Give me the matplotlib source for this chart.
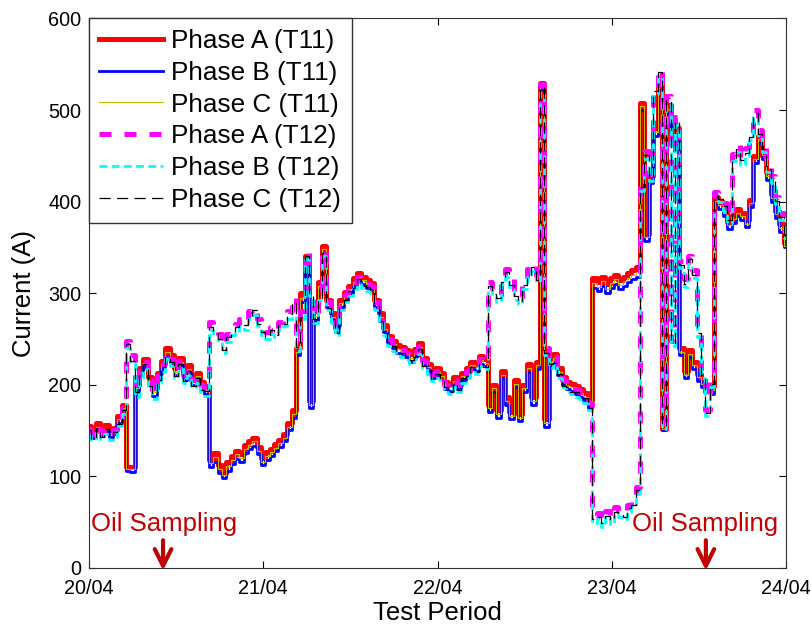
import numpy as np
import matplotlib
matplotlib.use("Agg")
import matplotlib.pyplot as plt

plt.rcParams['font.family'] = ['Liberation Sans', 'DejaVu Sans']

# time axis: 20/04 00:00 .. 24/04 00:00, one sample every 0.025 day
days = np.linspace(0, 4, 161)
day_ticks = [0, 1, 2, 3, 4]
day_labels = ['20/04', '21/04', '22/04', '23/04', '24/04']

# T11 phase currents (A)
t11_a = [155, 150, 158, 151, 156, 150, 153, 166, 178, 110, 110, 200, 218, 228, 208, 196, 213, 226, 240, 232,
         218, 229, 213, 221, 208, 213, 203, 198, 118, 125, 112, 104, 115, 122, 128, 124, 134, 138, 142, 132,
         120, 126, 130, 135, 140, 146, 158, 172, 240, 300, 340, 182, 280, 312, 352, 293, 278, 265, 293, 301,
         308, 316, 322, 318, 314, 311, 293, 278, 265, 253, 248, 243, 241, 238, 233, 239, 245, 229, 223, 215,
         218, 213, 203, 201, 208, 203, 213, 218, 225, 223, 231, 228, 178, 200, 172, 215, 186, 170, 205, 168,
         200, 222, 186, 225, 530, 162, 229, 233, 218, 208, 203, 201, 198, 195, 191, 183, 316, 312, 318, 310,
         316, 320, 314, 318, 322, 325, 328, 508, 365, 428, 480, 530, 152, 505, 470, 480, 240, 215, 238, 225,
         212, 205, 200, 198, 405, 400, 392, 378, 385, 392, 388, 380, 402, 450, 472, 455, 432, 408, 390, 375, 355]
t11_b = [148, 142, 150, 144, 149, 143, 146, 158, 170, 106, 105, 192, 210, 220, 200, 188, 205, 218, 231, 224,
         210, 221, 205, 213, 200, 205, 195, 190, 110, 116, 104, 98, 106, 113, 119, 116, 125, 130, 133, 124,
         112, 118, 122, 127, 132, 138, 150, 164, 232, 290, 332, 175, 270, 303, 344, 285, 270, 257, 285, 293,
         300, 308, 314, 310, 306, 303, 285, 270, 257, 245, 240, 235, 233, 230, 225, 231, 237, 221, 215, 207,
         210, 205, 195, 193, 200, 195, 205, 210, 217, 215, 223, 220, 170, 192, 164, 207, 178, 162, 197, 160,
         192, 214, 178, 217, 522, 154, 221, 225, 210, 200, 195, 193, 190, 187, 183, 175, 306, 302, 308, 300,
         306, 310, 304, 308, 312, 315, 318, 500, 357, 420, 472, 522, 150, 497, 462, 472, 232, 207, 230, 217,
         204, 197, 192, 190, 397, 392, 384, 370, 377, 384, 380, 372, 394, 442, 464, 447, 424, 400, 382, 367, 350]
t11_c = [151, 147, 154, 148, 152, 147, 149, 162, 174, 108, 108, 196, 214, 224, 204, 192, 209, 222, 236, 228,
         214, 225, 209, 217, 204, 209, 199, 194, 114, 121, 108, 101, 111, 118, 124, 120, 130, 134, 138, 128,
         116, 122, 126, 131, 136, 142, 154, 168, 236, 295, 336, 178, 275, 308, 348, 289, 274, 261, 289, 297,
         304, 312, 318, 314, 310, 307, 289, 274, 261, 249, 244, 239, 237, 234, 229, 235, 241, 225, 219, 211,
         214, 209, 199, 197, 204, 199, 209, 214, 221, 219, 227, 224, 174, 196, 168, 211, 182, 166, 201, 164,
         196, 218, 182, 221, 526, 158, 225, 229, 214, 204, 199, 197, 194, 191, 187, 179, 311, 307, 313, 305,
         311, 315, 309, 313, 317, 320, 323, 504, 361, 424, 476, 526, 151, 501, 466, 476, 236, 211, 234, 221,
         208, 201, 196, 194, 401, 396, 388, 374, 381, 388, 384, 376, 398, 446, 468, 451, 428, 404, 386, 371, 352]

# T12 phase currents (A)
t12_a = [152, 146, 155, 148, 153, 147, 150, 162, 175, 248, 232, 195, 215, 225, 205, 192, 210, 222, 236, 228,
         215, 226, 210, 218, 205, 210, 200, 196, 268, 262, 255, 243, 255, 262, 266, 272, 268, 280, 284, 272,
         262, 258, 263, 260, 268, 272, 280, 296, 245, 280, 345, 305, 275, 300, 348, 290, 275, 262, 290, 298,
         305, 312, 318, 314, 310, 308, 290, 275, 262, 250, 245, 240, 238, 235, 230, 236, 242, 226, 220, 212,
         215, 210, 200, 198, 205, 200, 210, 215, 222, 220, 228, 225, 312, 305, 298, 318, 326, 315, 300, 296,
         312, 326, 332, 320, 528, 240, 226, 230, 215, 205, 200, 198, 195, 192, 188, 180, 56, 60, 52, 62,
         55, 66, 62, 60, 68, 73, 88, 420, 455, 430, 525, 545, 158, 515, 248, 492, 335, 315, 340, 325,
         260, 215, 172, 205, 410, 408, 398, 385, 452, 462, 448, 458, 475, 500, 478, 462, 440, 428, 405, 388, 368]
t12_b = [145, 139, 148, 141, 146, 140, 143, 155, 168, 240, 224, 187, 207, 217, 197, 184, 202, 214, 228, 220,
         207, 218, 202, 210, 197, 202, 192, 188, 260, 254, 247, 235, 247, 254, 258, 264, 260, 272, 276, 264,
         254, 250, 255, 252, 260, 264, 272, 288, 237, 272, 337, 297, 267, 292, 340, 282, 267, 254, 282, 290,
         297, 304, 310, 306, 302, 300, 282, 267, 254, 242, 237, 232, 230, 227, 222, 228, 234, 218, 212, 204,
         207, 202, 192, 190, 197, 192, 202, 207, 214, 212, 220, 217, 304, 297, 290, 310, 318, 307, 292, 288,
         304, 318, 324, 312, 520, 232, 218, 222, 207, 197, 192, 190, 187, 184, 180, 172, 49, 53, 45, 55,
         48, 59, 55, 53, 61, 66, 81, 412, 447, 422, 517, 537, 152, 507, 242, 484, 327, 307, 332, 317,
         252, 207, 166, 197, 402, 400, 390, 377, 444, 454, 440, 450, 467, 492, 470, 454, 432, 420, 397, 380, 360]
t12_c = [150, 141, 153, 143, 151, 142, 148, 157, 172, 244, 226, 192, 210, 222, 199, 189, 205, 219, 230, 225,
         209, 223, 204, 215, 199, 207, 194, 193, 263, 257, 250, 238, 252, 256, 263, 266, 265, 274, 281, 266,
         258, 252, 260, 254, 265, 266, 277, 290, 241, 274, 341, 299, 272, 294, 344, 284, 272, 256, 287, 292,
         302, 306, 315, 308, 307, 302, 287, 269, 259, 244, 242, 234, 235, 229, 227, 230, 239, 220, 217, 206,
         212, 204, 197, 192, 202, 194, 207, 209, 219, 214, 225, 219, 308, 299, 295, 312, 323, 309, 297, 290,
         309, 320, 329, 314, 525, 235, 223, 224, 212, 199, 197, 192, 192, 186, 185, 174, 53, 55, 49, 57,
         52, 61, 59, 55, 65, 68, 85, 416, 451, 425, 521, 541, 155, 511, 245, 488, 331, 310, 337, 320,
         256, 211, 169, 201, 406, 403, 395, 380, 448, 457, 445, 453, 471, 497, 474, 457, 436, 423, 401, 383, 364]

# oil sampling instants (day offset)
sampling_days = [0.425, 3.54]
sampling_text_x = [0.01, 3.116]

fig = plt.figure(figsize=(8.12, 6.31), dpi=100)
ax = fig.add_axes([0.1096, 0.1003, 0.8584, 0.8704])

ax.plot(days, t11_a, color='red', lw=3.6, drawstyle='steps-mid', label='Phase A (T11)')
ax.plot(days, t11_b, color='blue', lw=2.0, drawstyle='steps-mid', label='Phase B (T11)')
ax.plot(days, t11_c, color='#BFBF00', lw=0.8, drawstyle='steps-mid', label='Phase C (T11)')
ax.plot(days, t12_a, color='magenta', lw=3.6, ls=(0, (2.4, 2.6)), drawstyle='steps-mid', label='Phase A (T12)')
ax.plot(days, t12_b, color='cyan', lw=2.0, ls=(0, (2.8, 1.6)), drawstyle='steps-mid', label='Phase B (T12)')
ax.plot(days, t12_c, color='black', lw=0.9, ls=(0, (9, 5)), drawstyle='steps-mid', label='Phase C (T12)')

for d, tx in zip(sampling_days, sampling_text_x):
    ax.annotate('', xy=(d, -3), xytext=(d, 30), annotation_clip=False,
                arrowprops=dict(arrowstyle='->', color='#C00000', lw=3.0, mutation_scale=30,
                                shrinkA=0, shrinkB=0))
    ax.text(tx, 40, 'Oil Sampling', color='#C00000', fontsize=18.5, ha='left', va='baseline')

ax.set_xlim(0, 4)
ax.set_ylim(0, 600)
ax.set_xticks(day_ticks)
ax.set_xticklabels(day_labels)
ax.set_yticks(range(0, 601, 100))
ax.tick_params(direction='in', top=True, right=True, length=5, labelsize=14.3)
ax.tick_params(axis='y', pad=5.5)
ax.tick_params(axis='x', pad=8)
for s in ax.spines.values():
    s.set_color('#333333')

ax.set_xlabel('Test Period', fontsize=18.5)
ax.set_ylabel('Current (A)', fontsize=18.5)
ax.xaxis.set_label_coords(0.5, -0.06)
ax.yaxis.set_label_coords(-0.076, 0.5)

leg = ax.legend(loc='upper left', bbox_to_anchor=(0, 1), borderaxespad=0, fontsize=18.8,
                fancybox=False, framealpha=1, edgecolor='#333333', handlelength=2.45,
                handletextpad=0.3, labelspacing=0.3, borderpad=0.4)
leg.get_frame().set_linewidth(1.0)

plt.savefig('out.png', dpi=100)
